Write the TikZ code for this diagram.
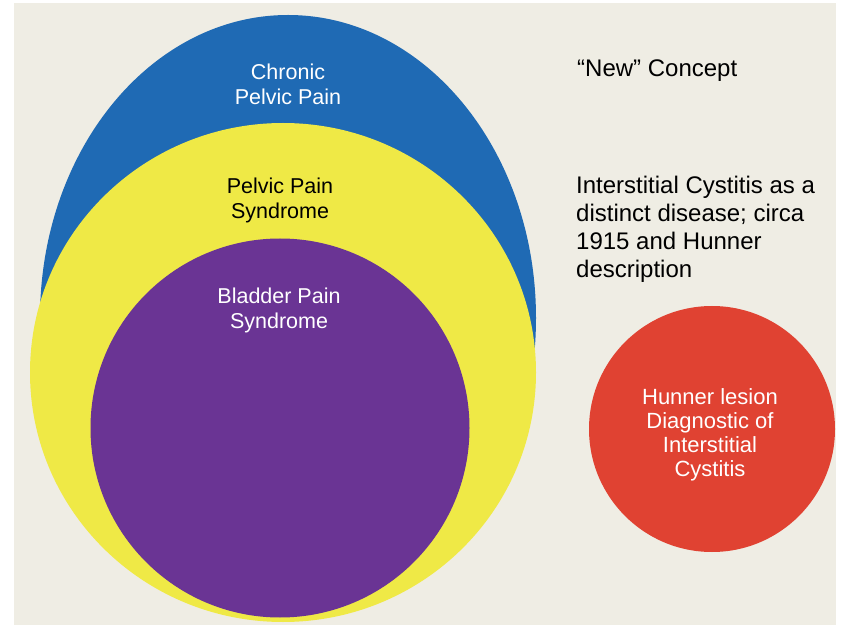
\documentclass[tikz,border=0pt]{standalone}
\usepackage{fontspec}
\setmainfont{Liberation Sans}
\usetikzlibrary{shapes.geometric,decorations.pathmorphing}
\definecolor{bgbeige}{RGB}{239,237,228}
\definecolor{cblue}{RGB}{31,106,180}
\definecolor{cyellow}{RGB}{239,233,70}
\definecolor{cpurple}{RGB}{106,52,148}
\definecolor{cred}{RGB}{224,66,50}
\tikzset{
  blob/.style={ellipse, draw=none, inner sep=0pt},
  lab/.style={align=center, inner sep=0pt, anchor=north, font=\fontsize{21.5}{25}\selectfont},
  side/.style={align=left, inner sep=0pt, font=\fontsize{24}{28}\selectfont, text=black},
  squiggle/.style={draw=red, line width=0.5pt, decorate, decoration={snake, amplitude=0.7pt, segment length=2.5pt}}
}
\begin{document}
\begin{tikzpicture}[x=1pt,y=-1pt]
\useasboundingbox (0,0) rectangle (841,628);
\fill[white] (0,0) rectangle (841,628);
\fill[bgbeige] (14,3) rectangle (836,625);
\node[blob, fill=cblue, minimum width=496pt, minimum height=606pt] (blue) at (288,318) {};
\node[blob, fill=cyellow, minimum width=506pt, minimum height=499pt] (yellow) at (283,372.5) {};
\node[blob, fill=cpurple, minimum width=379pt, minimum height=379pt] (purple) at (280,428) {};
\node[blob, fill=cred, minimum width=246pt, minimum height=246pt] (red) at (712,429) {};
\node[lab, text=white] (tblue) at (288,64) {Chronic\\Pelvic Pain};
\node[lab, text=black] (tyellow) at (280,178) {Pelvic Pain\\Syndrome};
\node[lab, text=white] (tpurple) at (279,288) {Bladder Pain\\Syndrome};
\node[lab, text=white, font=\fontsize{22}{24}\selectfont] (tred) at (710,388) {Hunner lesion\\Diagnostic of\\Interstitial\\Cystitis};
\node[side, anchor=base west] (tnew) at (577,77) {“New” Concept};
\node[side, anchor=north west] (tic) at (576,176) {Interstitial Cystitis as a\\distinct disease; circa\\1915 and Hunner\\description};
\pgfmathsetmacro\wpre{width("{\fontsize{24}{28}\selectfont 1915 and\ }")}
\pgfmathsetmacro\wword{width("{\fontsize{24}{28}\selectfont Hunner}")}
\coordinate (sqa) at ([xshift=\wpre pt, yshift=-76pt]tic.north west);
\coordinate (sqb) at ([xshift=\wpre pt+\wword pt, yshift=-76pt]tic.north west);
\draw[squiggle] (sqa) -- (sqb);
\pgfmathsetmacro\wline{width("{\fontsize{22}{24}\selectfont Hunner lesion}")}
\pgfmathsetmacro\wred{width("{\fontsize{22}{24}\selectfont Hunner}")}
\coordinate (ula) at ([xshift=-0.5*\wline pt, yshift=-18pt]tred.north);
\coordinate (ulb) at ([xshift=-0.5*\wline pt+\wred pt, yshift=-18pt]tred.north);
\draw[white, opacity=0.6, line width=0.6pt, dotted] (ula) -- (ulb);
\end{tikzpicture}
\end{document}
